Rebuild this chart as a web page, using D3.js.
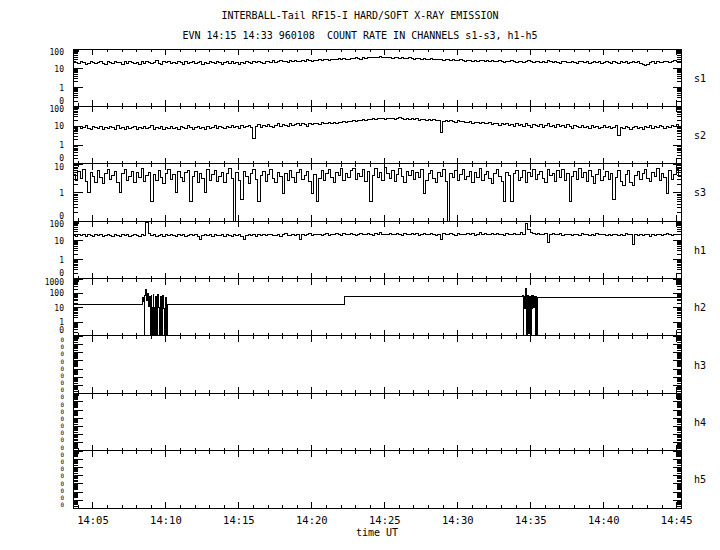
<html>
<head>
<script src="https://cdnjs.cloudflare.com/ajax/libs/d3/7.8.5/d3.min.js"></script>
<style>
  body { margin: 0; background: #fff; }
  svg text { font-family: "DejaVu Sans Mono", monospace; fill: #000; white-space: pre; }
</style>
</head>
<body>
<svg id="chart" width="720" height="550"></svg>
<script>
// channels and their log axis ranges
const channels = ["s1", "s2", "s3", "h1", "h2", "h3", "h4", "h5"];
const yLow  = [0.1, 0.1, 0.1, 0.1, 0.1, 1e-8, 1e-8, 1e-8];
const yHigh = [100, 100, 10, 100, 1000, 0.1, 0.1, 0.1];

// time in minutes after 14:00
const timeTicks = [5, 10, 15, 20, 25, 30, 35, 40, 45];
const startMin = 3 + 40 / 60, endMin = 45 + 20 / 60;
const sampleStep = 1 / 6; // 10 s samples for s1..h1

const s1 = [
  23,19,17,21,20,16,18,22,20,17, 19,23,18,16,21,19,17,22,19,20,
  16,21,18,23,20,17,19,15,21,18, 22,19,17,20,24,18,16,21,19,22,
  18,20,17,23,19,16,21,18,20,22, 17,19,21,16,20,18,23,19,17,21,
  19,16,20,22,18,21,17,19,16,20, 18,22,20,17,21,19,23,20,18,22,
  21,19,24,20,22,25,21,23,20,24, 22,26,23,21,25,23,27,24,22,26,
  25,28,24,27,29,25,28,30,27,31, 29,32,30,28,33,31,34,32,30,35,
  33,36,34,38,35,37,39,36,34,37, 35,33,36,34,32,35,33,31,34,32,
  30,33,31,29,32,30,28,31,29,27, 30,28,26,29,27,25,28,26,24,27,
  25,23,26,24,22,25,23,26,24,21, 24,22,25,23,21,24,22,20,23,21,
  24,22,20,23,21,19,22,24,21,20, 23,21,19,22,20,24,21,19,22,20,
  18,21,23,20,19,22,20,18,21,23, 19,21,17,20,22,19,21,18,20,23,
  19,17,21,20,18,22,19,21,17,20, 22,19,21,18,16,14,15,19,21,18,
  22,20,19,23,21,20,22,24,21,23, 24];

const s2 = [
  8,6,9,7,8,10,7,6,9,8, 7,9,6,8,7,9,8,6,10,7,
  8,6,9,7,8,9,6,8,7,9, 7,8,10,6,8,7,9,6,8,7,
  9,7,8,6,9,8,7,10,8,6, 8,9,7,8,6,9,7,8,10,7,
  9,8,7,9,8,10,8,9,7,10, 8,9,10,8,2.2,9,11,8,10,9,
  11,9,8,10,12,9,11,10,9,12, 10,11,13,10,12,11,9,12,11,13,
  12,11,14,12,13,15,12,14,13,15, 14,16,15,17,16,18,17,19,18,20,
  19,21,20,22,21,23,22,24,21,23, 22,24,21,23,25,22,20,23,21,22,
  20,22,19,21,20,18,21,19,20,18, 19,4.5,17,19,16,18,17,15,18,16,
  17,15,14,16,13,15,14,12,14,13, 12,14,11,13,12,10,12,11,13,10,
  11,9,12,10,11,9,12,10,8,11, 10,9,11,8,10,12,9,10,8,11,
  9,10,8,11,9,7,10,9,8,10, 8,9,7,10,8,9,7,8,10,8,
  9,7,8,10,3,8,7,9,8,6, 8,9,7,8,6,9,8,10,7,9,
  8,10,9,7,9,8,10,9,11,9, 10];

const s3 = [
  4.2,2.6,5.5,3.1,6.2,2.4,1,4.8,3.5,2.2, 5.8,3.3,2.1,4.6,6.5,2.8,3.9,5.2,2.3,1,
  4.4,6.1,2.7,3.6,5.4,2.2,4.9,3.2,6.8,2.5, 3.8,5.1,0.49,4.3,2.6,5.7,3.4,2.1,4.7,6.3,
  2.9,4.1,1,5.5,3.2,2.4,4.8,6,0.49,3.7, 5.2,2.3,4.5,3,1,6.4,2.7,4.2,5.6,2.5,
  3.6,5,2.2,4.4,6.6,3.1,0,4.9,2.6,0.56, 5.3,3.5,2.1,4.6,6.2,2.8,0.47,3.9,5.4,2.4,
  4.1,6.5,3,2.3,5.1,3.7,0.95,4.5,2.6,5.9, 3.3,2.2,4.8,6.1,2.9,3.8,5.5,2.5,0.95,4.3,
  0.49,3.1,5.8,2.7,4.6,6.4,3.4,2.3,5,3.9, 6.8,2.6,4.4,3.2,5.7,7.1,2.9,4.7,3.6,6.2,
  2.4,5.3,0.49,4,6.9,3.3,5.1,2.7,7.4,4.5, 3,5.9,2.5,4.2,6.6,3.5,2.2,5.4,3.8,6,
  2.8,4.9,3.4,6.3,0.95,2.6,4.4,5.6,3.1,2.3, 5,3.7,6.1,2.5,0,4.6,3.2,5.8,2.7,4.1,
  6.4,2.9,3.6,5.3,2.2,4.8,3.4,6.7,2.6,4.3, 5.5,3,2.1,4.7,6.2,3.5,2.4,0.49,5.1,3.8,
  0.49,4.4,6,2.7,3.3,5.6,2.3,4.9,3.6,6.5, 2.8,4.2,5.4,3.1,2.2,6.1,3.9,4.6,2.5,5.7,
  3.4,6.3,2.6,4.5,0.49,3.7,5.2,2.9,6.8,3.2, 4.8,2.4,5.9,3.6,2,4.3,6.2,2.7,3.5,5.5,
  2.9,4.6,0.56,3.3,6,2.5,1.8,4.1,5.6,2.2, 1.7,3.9,5.3,2.8,4.7,6.4,3,2.4,5.1,3.6,
  6.6,2.6,4.4,3.2,0.95,5.8,2.9,4.1,6.2,3.5, 4.6];

const h1 = [
  18,15,20,17,19,16,21,18,15,19, 17,20,16,18,21,17,15,19,18,16,
  20,17,19,15,18,21,17,16,19,18, 84,22,17,19,16,18,20,15,19,17,
  21,18,16,19,17,20,15,18,21,17, 19,16,10.5,18,20,17,19,16,21,18,
  17,20,16,19,18,15,20,17,19,16, 10.5,18,20,17,21,16,19,18,20,17,
  19,21,17,18,20,16,19,22,18,17, 20,18,21,11,19,17,20,22,18,19,
  21,19,17,20,22,18,21,19,23,20, 18,22,20,19,23,21,18,20,22,19,
  21,23,20,18,22,21,24,19,21,20, 22,19,21,23,20,18,22,21,19,23,
  20,22,18,21,23,20,19,22,21,18, 20,11,22,19,21,23,20,18,22,20,
  21,19,23,20,22,18,21,24,20,22, 19,21,23,20,22,19,21,18,23,21,
  20,22,19,21,24,20,79,35,26,22, 20,23,21,19,22,7.6,20,23,21,19,
  22,18,20,21,19,17,21,20,18,22, 19,21,17,20,18,22,19,21,20,17,
  20,18,21,19,17,20,18,22,19,21, 6.2,19,17,20,18,21,19,16,20,18,
  21,19,17,20,22,19,18,21,20,19, 20];

// h2: flat level with two bursts (times in minutes after 14:00)
const h2Time = [3.667,
  8.43,8.48,8.55,8.59,8.65,8.72,8.79,8.86,8.91,8.96,9.02,9.06,9.12,9.17,9.21,9.26,
  9.30,9.36,9.42,9.46,9.52,9.60,9.65,9.70,9.76,9.81,9.87,9.94,9.99,10.04,10.10,10.15,
  22.25,
  34.46,34.53,34.57,34.63,34.69,34.73,34.78,34.83,34.87,34.91,34.96,35.01,35.06,35.12,
  35.17,35.23,35.28,35.33,35.39,35.44,35.48, 45.333];
const h2Vals = [15,
  45,25,0,70,180,30,90,12,60,0,65,10,0,80,9,0,
  55,8,0,75,10,0,60,9,0,65,8,0,50,11,0,15,
  58,
  70,0,60,8,210,0,65,7,70,0.15,60,0,65,8,
  70,9,60,0,55,0,47, 47];

const titleLines = ["INTERBALL-Tail RF15-I HARD/SOFT X-RAY EMISSION",
  "EVN 14:15 14:33 960108  COUNT RATE IN CHANNELS s1-s3, h1-h5"];

const svg = d3.select("#chart").attr("shape-rendering", "crispEdges");
const plotLeft = 73, plotRight = 681, plotTop = 49, plotBottom = 508;
const panelH = (plotBottom - plotTop) / channels.length;

const x = d3.scaleLinear().domain([startMin, endMin]).range([plotLeft, plotRight]);
const sTimes = s1.map((d, i) => startMin + i * sampleStep);
const series = { s1: [sTimes, s1], s2: [sTimes, s2], s3: [sTimes, s3], h1: [sTimes, h1], h2: [h2Time, h2Vals] };
const minorMin = d3.range(4, 46).filter(m => m % 5 !== 0);
const fmt = v => v >= 1 ? d3.format("d")(v) : "0";

function plain(a) {
  a.attr("font-family", null).attr("font-size", null);
  a.select(".domain").remove();
}

channels.forEach((name, k) => {
  const y0 = plotTop + k * panelH, y1 = y0 + panelH;
  const y = d3.scaleLog().domain([yLow[k], yHigh[k]]).range([y1, y0]).clamp(true);
  const e0 = Math.round(Math.log10(yLow[k])), e1 = Math.round(Math.log10(yHigh[k]));
  const decades = d3.range(e0, e1 + 1).map(e => +("1e" + e));
  const minors = decades.slice(0, -1).flatMap(d => d3.range(2, 10).map(m => m * d));
  const dense = decades.length > 5;
  const decStep = panelH / (decades.length - 1);
  const slot = panelH / decades.length;
  const g = svg.append("g");

  // data trace
  if (series[name]) {
    const [tt, vv] = series[name];
    g.append("path")
      .attr("fill", "none").attr("stroke", "#000").attr("stroke-width", 1)
      .attr("d", d3.line().x((d, i) => x(tt[i])).y(d => y(d)).curve(d3.curveStepAfter)(vv));
  }

  g.append("rect").attr("x", plotLeft).attr("y", y0).attr("width", plotRight - plotLeft).attr("height", panelH)
    .attr("fill", "none").attr("stroke", "#000");

  // left y axis; crowded "0" labels are spread evenly inside the panel
  g.append("g").attr("transform", `translate(${plotLeft},0)`)
    .call(d3.axisLeft(y).tickValues(decades).tickSize(-10).tickPadding(9).tickFormat(fmt))
    .call(plain)
    .call(a => a.selectAll("text").attr("font-size", dense ? 6 : 8).attr("dy", null)
      .attr("y", (d, i, n) => dense ? (-slot / 2 - i * slot + i * decStep + 2.1)
        : (i === 0 ? -3 : (i === n.length - 1 ? 5.5 : 3))));
  g.append("g").attr("transform", `translate(${plotLeft},0)`)
    .call(d3.axisLeft(y).tickValues(minors).tickSize(-5).tickFormat("")).call(plain);

  // right y axis
  g.append("g").attr("transform", `translate(${plotRight},0)`)
    .call(d3.axisRight(y).tickValues(decades).tickSize(-8).tickFormat("")).call(plain);
  g.append("g").attr("transform", `translate(${plotRight},0)`)
    .call(d3.axisRight(y).tickValues(minors).tickSize(-4).tickFormat("")).call(plain);

  // time ticks on top and bottom edges
  [[d3.axisTop, y0], [d3.axisBottom, y1]].forEach(([ax, yy]) => {
    g.append("g").attr("transform", `translate(0,${yy})`)
      .call(ax(x).tickValues(timeTicks).tickSize(-6).tickFormat("")).call(plain);
    g.append("g").attr("transform", `translate(0,${yy})`)
      .call(ax(x).tickValues(minorMin).tickSize(-3).tickFormat("")).call(plain);
  });

  g.append("text").attr("x", 694).attr("y", (y0 + y1) / 2 + 4).attr("font-size", 10).text(name);
});

// time labels
svg.append("g").attr("transform", `translate(0,${plotBottom})`)
  .call(d3.axisBottom(x).tickValues(timeTicks).tickSize(0)
    .tickFormat(m => "14:" + String(m).padStart(2, "0")))
  .call(plain)
  .call(a => a.selectAll("text").attr("font-size", 10.5).attr("dy", null).attr("y", 16));

svg.append("text").attr("x", (plotLeft + plotRight) / 2).attr("y", 536).attr("text-anchor", "middle")
  .attr("font-size", 10).text("time UT");

svg.selectAll(".title").data(titleLines).enter().append("text")
  .attr("x", 360).attr("y", (d, i) => 19 + i * 20).attr("text-anchor", "middle")
  .attr("font-size", 10).text(d => d);
</script>
</body>
</html>
